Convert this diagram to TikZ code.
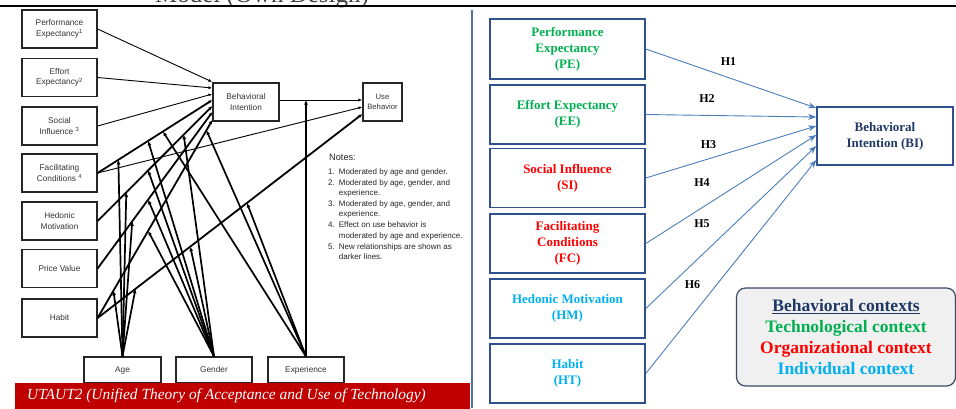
\documentclass[tikz,border=0pt]{standalone}
\usepackage{fontspec}
\setmainfont{Liberation Serif}
\newfontfamily\arialfont{Liberation Sans}
\usetikzlibrary{arrows.meta}

\definecolor{bannerred}{HTML}{C00000}
\definecolor{boxblue}{HTML}{2F528F}
\definecolor{arrowblue}{HTML}{4A7EBB}
\definecolor{techgreen}{HTML}{00B050}
\definecolor{orgred}{HTML}{FF0000}
\definecolor{indblue}{HTML}{00B0F0}
\definecolor{navytext}{HTML}{1F3864}
\definecolor{sepblue}{HTML}{5A6F99}
\definecolor{legendfill}{HTML}{F0F0F0}
\definecolor{legendline}{HTML}{3A4A66}

\begin{document}
\begin{tikzpicture}[x=1pt,y=-1pt,
  lbox/.style={draw=black!85, line width=1.2pt, minimum width=75pt, minimum height=38pt,
    inner sep=0.5pt, align=center, text=black!80,
    font=\arialfont\fontsize{8.3}{10.5}\selectfont},
  thinln/.style={line width=0.9pt, -{Latex[length=4pt,width=3pt]}},
  thickln/.style={line width=1.8pt, -{Latex[length=4pt,width=3.5pt]}},
  modln/.style={line width=1.7pt, -{Latex[length=4.5pt,width=4pt]}},
  rbox/.style={draw=boxblue, line width=1.5pt, minimum width=155pt, minimum height=59pt,
    inner sep=0pt, align=center, font=\bfseries\fontsize{13}{16}\selectfont},
  rarrow/.style={arrowblue, line width=0.9pt, -{Stealth[length=8pt,width=6pt,inset=2.5pt]}},
  hlabel/.style={font=\bfseries\fontsize{12}{12}\selectfont, inner sep=0pt}]

\useasboundingbox (0,0) rectangle (956,408);
\clip (0,0) rectangle (956,408);

% heading above the rule (only its lower edge lies inside the page)
\node[anchor=base, font=\fontsize{25}{25}\selectfont, text=black!75, inner sep=0pt]
  (heading) at (262,2.5) {Model (Own Design)};
\draw[line width=2.3pt] (0,6.3) -- (956,6.3);

% divider between the two models
\draw[sepblue, line width=1.3pt] (472,10) -- (472,408);

% ---------------- UTAUT2 model (left) ----------------
\node[lbox] (lpe) at (59.5,29)    {Performance\\Expectancy\textsuperscript{1}};
\node[lbox] (lee) at (59.5,77.5)  {Effort\\Expectancy\textsuperscript{2}};
\node[lbox] (lsi) at (59.5,126)   {Social\\Influence \textsuperscript{3}};
\node[lbox] (lfc) at (59.5,173)   {Facilitating\\Conditions \textsuperscript{4}};
\node[lbox] (lhm) at (59.5,221)   {Hedonic\\Motivation};
\node[lbox] (lpv) at (59.5,268.5) {Price Value};
\node[lbox] (lht) at (59.5,318)   {Habit};
\node[lbox, minimum width=66pt] (lbi) at (246,102)   {Behavioral\\Intention};
\node[lbox, minimum width=39pt, font=\arialfont\fontsize{7.7}{10.5}\selectfont]
  (lub) at (382.5,102) {Use\\Behavior};
\node[lbox, minimum width=77pt, minimum height=26pt] (lage) at (122.5,370) {Age};
\node[lbox, minimum width=76pt, minimum height=26pt] (lgen) at (214,370)   {Gender};
\node[lbox, minimum width=76pt, minimum height=26pt] (lexp) at (306,370)   {Experience};

% constructs -> behavioral intention / use behavior
\draw[thinln] (lpe.east) -- (lbi.west |- 0,82);
\draw[thinln] (lee.east) -- (lbi.west |- 0,88);
\draw[thinln] (lsi.east) -- (lbi.west |- 0,94);
\draw[thickln] (lfc.east) -- (lbi.west |- 0,100)
  coordinate[pos=0.181] (fcA) coordinate[pos=0.44] (fcG) coordinate[pos=0.569] (fcE);
\draw[thickln] (lhm.east) -- (lbi.west |- 0,106)
  coordinate[pos=0.25] (hmA) coordinate[pos=0.44] (hmG) coordinate[pos=0.75] (hmG2);
\draw[thickln] (lpv.east) -- (lbi.west |- 0,112)
  coordinate[pos=0.302] (pvA) coordinate[pos=0.44] (pvG);
\draw[thickln] (lht.east) -- (lbi.west |- 0,120)
  coordinate[pos=0.138] (htA) coordinate[pos=0.44] (htG) coordinate[pos=0.948] (htE);
\draw[thinln] (lfc.east) -- (lub.west |- 0,107);
\draw[thickln] (lht.east) -- (lub.west |- 0,114)
  coordinate[pos=0.143] (huA) coordinate[pos=0.35] (huG) coordinate[pos=0.564] (huE);
\draw[thinln] (lbi.east |- 0,100) -- (lub.west |- 0,100) coordinate[pos=0.321] (buE);

% moderators
\foreach \t in {fcA,hmA,pvA,htA,huA} \draw[modln] (lage.north) -- (\t);
\foreach \t in {fcG,hmG,pvG,htG,hmG2,huG} \draw[modln] (lgen.north) -- (\t);
\foreach \t in {fcE,htE,huE} \draw[modln] (lexp.north) -- (\t);
\draw[modln] (lexp.north) -- (lexp.north |- buE);

% notes
\node[anchor=north west, inner sep=0pt, text=black!85,
  font=\arialfont\fontsize{9.2}{10}\selectfont] (notes) at (329,154) {Notes:};
\node[anchor=north west, align=left, inner sep=0pt, text=black!85,
  font=\arialfont\fontsize{8}{10.4}\selectfont] (notelist) at (328,168) {%
1.\enspace Moderated by age and gender.\\[0.6pt]
2.\enspace Moderated by age, gender, and\\
\hphantom{2.\enspace}experience.\\[0.6pt]
3.\enspace Moderated by age, gender, and\\
\hphantom{3.\enspace}experience.\\[0.6pt]
4.\enspace Effect on use behavior is\\
\hphantom{4.\enspace}moderated by age and experience.\\[0.6pt]
5.\enspace New relationships are shown as\\
\hphantom{5.\enspace}darker lines.};

% caption banner
\node[fill=bannerred, minimum width=455pt, minimum height=26pt, inner sep=0pt,
  anchor=north west] (banner) at (15,383) {};
\node[anchor=west, text=white, inner sep=0pt,
  font=\itshape\fontsize{15.4}{15.4}\selectfont] (bannertext) at (27,396)
  {UTAUT2 (Unified Theory of Acceptance and Use of Technology)};

% ---------------- research model (right) ----------------
\node[rbox, text=techgreen, minimum height=60pt] (rpe) at (567.5,49)
  {Performance\\Expectancy\\(PE)};
\node[rbox, text=techgreen] (ree) at (567.5,114.5) {Effort Expectancy\\(EE)};
\node[rbox, text=orgred]    (rsi) at (567.5,178)   {Social Influence\\(SI)};
\node[rbox, text=orgred]    (rfc) at (567.5,243.5) {Facilitating\\Conditions\\(FC)};
\node[rbox, text=indblue]   (rhm) at (567.5,308.5) {Hedonic Motivation\\(HM)};
\node[rbox, text=indblue]   (rht) at (567.5,373.5) {Habit\\(HT)};
\node[rbox, text=navytext, minimum width=136pt, minimum height=58pt] (rbi) at (885,136)
  {Behavioral\\Intention (BI)};

\draw[rarrow] (rpe.east) -- (rbi.west |- 0,108);
\draw[rarrow] (ree.east) -- (rbi.west |- 0,117);
\draw[rarrow] (rsi.east) -- (rbi.west |- 0,126);
\draw[rarrow] (rfc.east) -- (rbi.west |- 0,135);
\draw[rarrow] (rhm.east) -- (rbi.west |- 0,146);
\draw[rarrow] (rht.east) -- (rbi.west |- 0,160);

\node[hlabel] (h1) at (728.5,62)  {H1};
\node[hlabel] (h2) at (707,98.5)  {H2};
\node[hlabel] (h3) at (708.5,145) {H3};
\node[hlabel] (h4) at (702,183)   {H4};
\node[hlabel] (h5) at (702,223.5) {H5};
\node[hlabel] (h6) at (692.5,284.5) {H6};

% legend
\node[draw=legendline, fill=legendfill, line width=1.2pt, rounded corners=9pt,
  minimum width=219pt, minimum height=98pt, inner sep=0pt, align=center,
  font=\bfseries\fontsize{17.5}{20.7}\selectfont] (legend) at (846,337)
  {\textcolor{navytext}{\underline{Behavioral contexts}}\\
   \textcolor{techgreen}{Technological context}\\
   \textcolor{orgred}{Organizational context}\\
   \textcolor{indblue}{Individual context}};
\end{tikzpicture}
\end{document}
